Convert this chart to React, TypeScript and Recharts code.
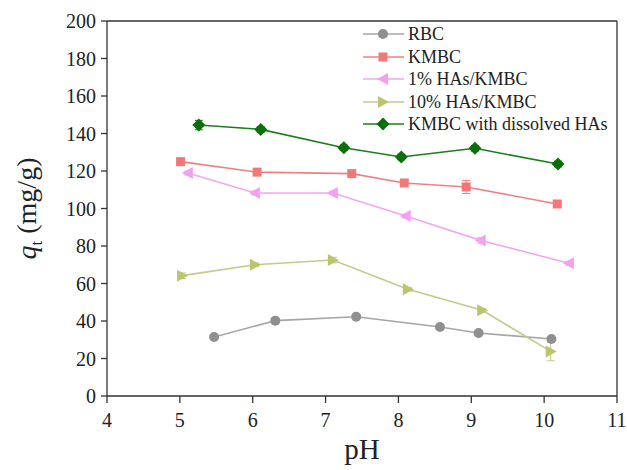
import React from "react";
import {
  LineChart,
  Line,
  XAxis,
  YAxis,
  ReferenceLine,
  Legend,
  Label,
  ErrorBar,
} from "recharts";

const xTicks = [4, 5, 6, 7, 8, 9, 10, 11];
const yTicks = [0, 20, 40, 60, 80, 100, 120, 140, 160, 180, 200];

const rbcPH = [5.47, 6.31, 7.42, 8.57, 9.1, 10.1];
const rbcQ = [31.5, 40.2, 42.3, 36.8, 33.6, 30.4];
const rbcErr = [1, 1, 1, 1, 1, 1];

const kmbcPH = [5.01, 6.06, 7.36, 8.08, 8.93, 10.18];
const kmbcQ = [125, 119.4, 118.6, 113.6, 111.5, 102.4];
const kmbcErr = [1.5, 1.5, 1.5, 1.5, 3.5, 1.5];

const ha1PH = [5.11, 6.03, 7.1, 8.1, 9.13, 10.34];
const ha1Q = [118.9, 108.3, 108.3, 96, 83, 70.8];
const ha1Err = [1, 1, 1, 1, 1.5, 1];

const ha10PH = [5.03, 6.03, 7.1, 8.13, 9.15, 10.09];
const ha10Q = [64.2, 70, 72.5, 56.9, 45.7, 23.8];
const ha10Err = [1.5, 1, 1.5, 1, 1, 5];

const dissPH = [5.26, 6.11, 7.25, 8.04, 9.05, 10.19];
const dissQ = [144.5, 142.2, 132.4, 127.5, 132.1, 123.7];
const dissErr = [2.5, 1.5, 1.5, 1.5, 1.5, 1.5];

const build = (xs: number[], ys: number[], es: number[]) =>
  xs.map((x, i) => ({ ph: x, q: ys[i], err: es[i] }));

type Shape = "circle" | "square" | "left" | "right" | "diamond";

const series: {
  name: string;
  data: { ph: number; q: number; err: number }[];
  line: string;
  fill: string;
  shape: Shape;
}[] = [
  { name: "RBC", data: build(rbcPH, rbcQ, rbcErr), line: "#a6a6a6", fill: "#8f8f8f", shape: "circle" },
  { name: "KMBC", data: build(kmbcPH, kmbcQ, kmbcErr), line: "#f08080", fill: "#f27878", shape: "square" },
  { name: "1% HAs/KMBC", data: build(ha1PH, ha1Q, ha1Err), line: "#f2a8ee", fill: "#f4a0f0", shape: "left" },
  { name: "10% HAs/KMBC", data: build(ha10PH, ha10Q, ha10Err), line: "#c6c98a", fill: "#bcc46e", shape: "right" },
  { name: "KMBC with dissolved HAs", data: build(dissPH, dissQ, dissErr), line: "#1a7f1a", fill: "#0a6e0a", shape: "diamond" },
];

const FONT = "'Liberation Serif', 'Times New Roman', serif";

function MarkerShape({ cx, cy, shape, fill }: { cx: number; cy: number; shape: Shape; fill: string }) {
  if (cx == null || cy == null) return null;
  switch (shape) {
    case "circle":
      return <circle cx={cx} cy={cy} r={5} fill={fill} />;
    case "square":
      return <rect x={cx - 4.5} y={cy - 4.5} width={9} height={9} fill={fill} />;
    case "left":
      return <polygon points={`${cx - 6},${cy} ${cx + 5},${cy - 6} ${cx + 5},${cy + 6}`} fill={fill} />;
    case "right":
      return <polygon points={`${cx + 6},${cy} ${cx - 5},${cy - 6} ${cx - 5},${cy + 6}`} fill={fill} />;
    case "diamond":
      return <polygon points={`${cx},${cy - 6.5} ${cx + 6.5},${cy} ${cx},${cy + 6.5} ${cx - 6.5},${cy}`} fill={fill} />;
  }
  return null;
}

function LegendContent() {
  return (
    <div style={{ fontFamily: FONT, fontSize: 18, color: "#222" }}>
      {series.map((s) => (
        <div key={s.name} style={{ display: "flex", alignItems: "center", height: 22.5 }}>
          <svg width={45} height={16} style={{ display: "block" }}>
            <line x1={0} y1={8} x2={41} y2={8} stroke={s.line} strokeWidth={1.6} />
            <MarkerShape cx={20} cy={8} shape={s.shape} fill={s.fill} />
          </svg>
          <span style={{ whiteSpace: "nowrap", lineHeight: "22px" }}>{s.name}</span>
        </div>
      ))}
    </div>
  );
}

function YTitle(props: any) {
  const vb = props.viewBox || { y: 21, height: 375 };
  const cy = vb.y + vb.height / 2;
  return (
    <text
      transform={`translate(36, ${cy}) rotate(-90)`}
      textAnchor="middle"
      fontFamily={FONT}
      fontSize={28}
      fill="#222"
    >
      <tspan fontStyle="italic">q</tspan>
      <tspan fontSize={17} dy={6}>t</tspan>
      <tspan dy={-6}> (mg/g)</tspan>
    </text>
  );
}

function XTitle(props: any) {
  const vb = props.viewBox || { x: 107, width: 510 };
  const cx = vb.x + vb.width / 2;
  return (
    <text x={cx} y={459} textAnchor="middle" fontFamily={FONT} fontSize={29} fill="#222">
      pH
    </text>
  );
}

export default function App() {
  const axisColor = "#333";
  return (
    <div style={{ position: "absolute", left: 0, top: 0, background: "#fff" }}>
      <LineChart
        width={627}
        height={470}
        margin={{ top: 21, right: 10, left: 0, bottom: 0 }}
      >
        <XAxis
          dataKey="ph"
          type="number"
          domain={[4, 11]}
          ticks={xTicks}
          interval={0}
          allowDuplicatedCategory={false}
          height={74}
          stroke={axisColor}
          strokeWidth={1.3}
          tickSize={7}
          tickMargin={10}
          tick={{ fill: "#222", fontSize: 20, fontFamily: FONT }}
        >
          <Label content={<XTitle />} />
        </XAxis>
        <YAxis
          dataKey="q"
          type="number"
          domain={[0, 200]}
          ticks={yTicks}
          interval={0}
          width={107}
          stroke={axisColor}
          strokeWidth={1.3}
          tickSize={6}
          tickMargin={5}
          tick={{ fill: "#222", fontSize: 20, fontFamily: FONT }}
        >
          <Label content={<YTitle />} />
        </YAxis>
        <ReferenceLine y={200} stroke={axisColor} strokeWidth={1.3} />
        <ReferenceLine x={11} stroke={axisColor} strokeWidth={1.3} />
        {series.map((s) => (
          <Line
            key={s.name}
            name={s.name}
            data={s.data}
            dataKey="q"
            type="linear"
            stroke={s.line}
            strokeWidth={1.6}
            isAnimationActive={false}
            activeDot={false}
            dot={(p: any) => (
              <MarkerShape key={`${s.name}-${p.index}`} cx={p.cx} cy={p.cy} shape={s.shape} fill={s.fill} />
            )}
          >
            <ErrorBar dataKey="err" width={4} stroke={s.line} strokeWidth={1} direction="y" />
          </Line>
        ))}
        <Legend
          layout="vertical"
          align="center"
          verticalAlign="middle"
          content={<LegendContent />}
          wrapperStyle={{ position: "absolute", left: 363, top: 23, width: "auto", margin: 0 }}
        />
      </LineChart>
    </div>
  );
}
